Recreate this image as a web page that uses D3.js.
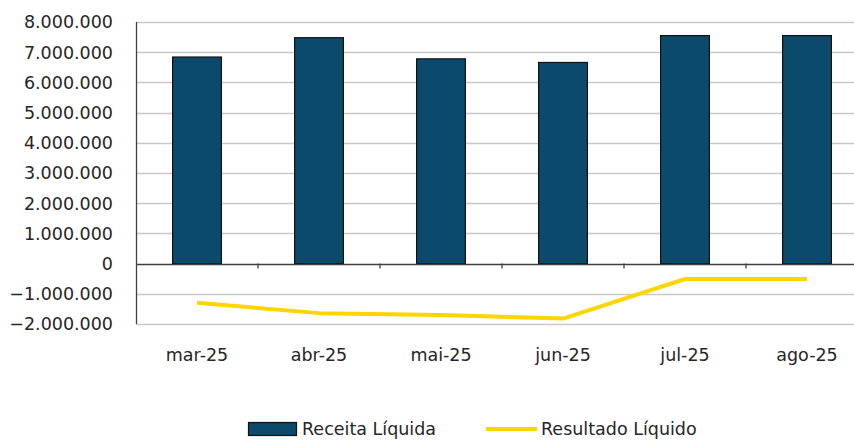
<!DOCTYPE html>
<html>
<head>
<meta charset="utf-8">
<script src="https://cdn.jsdelivr.net/npm/d3@7"></script>
<style>
html,body{margin:0;padding:0;background:#fff;}
svg{display:block;}
text{font-family:"DejaVu Sans",sans-serif;fill:#262626;}
</style>
</head>
<body>
<svg id="chart" width="854" height="441"></svg>
<script>
const categories = ["mar-25","abr-25","mai-25","jun-25","jul-25","ago-25"];
const receitaLiquida = [6840000, 7480000, 6780000, 6660000, 7550000, 7550000];
const resultadoLiquido = [-1300000, -1640000, -1700000, -1820000, -510000, -510000];
const yTicks = [-2000000,-1000000,0,1000000,2000000,3000000,4000000,5000000,6000000,7000000,8000000];
const seriesNames = ["Receita Líquida","Resultado Líquido"];

const svg = d3.select("#chart");
const pLeft = 136, pRight = 868, pTop = 22, pBottom = 324;
const barColor = "#0b4a6a", lineColor = "#ffd500";

const x = d3.scaleBand().domain(categories).range([pLeft, pRight]).padding(0);
const y = d3.scaleLinear().domain([-2000000, 8000000]).range([pBottom, pTop]);
const fmt = v => d3.format(",")(v).replace(/,/g, ".");

// gridlines
svg.append("g").selectAll("line").data(yTicks.filter(d => d !== 0)).join("line")
  .attr("x1", pLeft).attr("x2", pRight)
  .attr("y1", d => Math.round(y(d)) + 0.5).attr("y2", d => Math.round(y(d)) + 0.5)
  .attr("stroke", "#c8c8c8").attr("stroke-width", 1.5);

// y axis labels
svg.append("g").selectAll("text").data(yTicks).join("text")
  .attr("x", 113).attr("y", d => y(d)).attr("dy", "0.36em")
  .attr("text-anchor", "end").style("font-size", "17.5px")
  .text(d => fmt(d));

// bars
const bw = x.bandwidth() * 0.4;
svg.append("g").selectAll("rect").data(categories).join("rect")
  .attr("x", (d) => x(d) + (x.bandwidth() - bw) / 2)
  .attr("width", bw)
  .attr("y", (d, i) => y(receitaLiquida[i]))
  .attr("height", (d, i) => y(0) - y(receitaLiquida[i]))
  .attr("fill", barColor).attr("stroke", "#111").attr("stroke-width", 1.2);

// axes lines
svg.append("line").attr("x1", pLeft + 0.5).attr("x2", pLeft + 0.5).attr("y1", pTop).attr("y2", pBottom)
  .attr("stroke", "#404040").attr("stroke-width", 1.3);
svg.append("line").attr("x1", pLeft).attr("x2", pRight).attr("y1", Math.round(y(0)) + 0.5).attr("y2", Math.round(y(0)) + 0.5)
  .attr("stroke", "#404040").attr("stroke-width", 1.3);
// category ticks
svg.append("g").selectAll("line").data(categories.slice(1)).join("line")
  .attr("x1", d => x(d)).attr("x2", d => x(d))
  .attr("y1", y(0)).attr("y2", y(0) + 5)
  .attr("stroke", "#404040").attr("stroke-width", 1.3);

// x labels
svg.append("g").selectAll("text").data(categories).join("text")
  .attr("x", d => x(d) + x.bandwidth() / 2).attr("y", 355).attr("dy", "0.36em")
  .attr("text-anchor", "middle").style("font-size", "17.5px")
  .text(d => d);

// line
const line = d3.line()
  .x((d, i) => x(categories[i]) + x.bandwidth() / 2)
  .y(d => y(d));
svg.append("path").datum(resultadoLiquido).attr("d", line)
  .attr("fill", "none").attr("stroke", lineColor).attr("stroke-width", 4)
  .attr("stroke-linejoin", "round");

// legend
const lg = svg.append("g");
lg.append("rect").attr("x", 248.5).attr("y", 422.5).attr("width", 48).attr("height", 13)
  .attr("fill", barColor).attr("stroke", "#111").attr("stroke-width", 1.2);
lg.append("text").attr("x", 302).attr("y", 429).attr("dy", "0.36em").style("font-size", "17.5px").text(seriesNames[0]);
lg.append("line").attr("x1", 486).attr("x2", 537).attr("y1", 429).attr("y2", 429)
  .attr("stroke", lineColor).attr("stroke-width", 4);
lg.append("text").attr("x", 541).attr("y", 429).attr("dy", "0.36em").style("font-size", "17.5px").text(seriesNames[1]);
</script>
</body>
</html>
